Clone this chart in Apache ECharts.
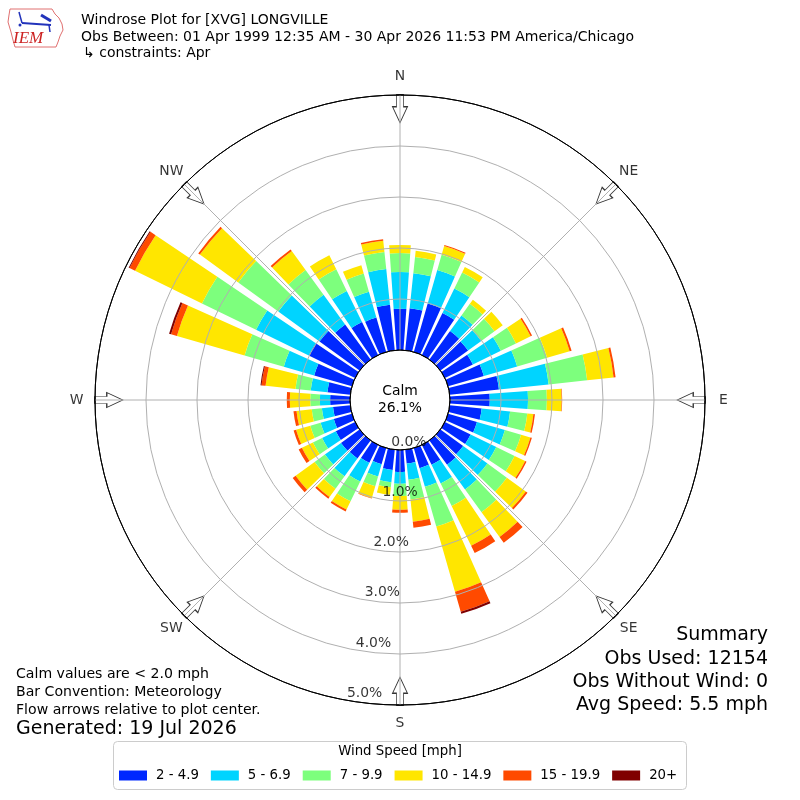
<!DOCTYPE html>
<html>
<head>
<meta charset="utf-8">
<title>Windrose XVG</title>
<script src="https://cdn.jsdelivr.net/npm/echarts@6/dist/echarts.min.js"></script>
<style>
html,body{margin:0;padding:0;background:#fff;}
#roseContainer{width:800px;height:800px;}
</style>
</head>
<body>
<div id="roseContainer"></div>
<script>
//风向 10度一档, 从北开始顺时针
var dirLabels = ['0','10','20','30','40','50','60','70','80','90','100','110','120','130','140','150','160','170',
                 '180','190','200','210','220','230','240','250','260','270','280','290','300','310','320','330','340','350'];
var speedNames = ['2 - 4.9','5 - 6.9','7 - 9.9','10 - 14.9','15 - 19.9','20+'];

// percent of obs per direction, one array per speed bin
var spd2  = [0.81,0.83,0.99,0.92,0.69,0.67,0.61,0.73,0.97,0.78,0.63,0.59,0.56,0.55,0.59,0.43,0.41,0.27,
             0.43,0.40,0.33,0.39,0.44,0.45,0.42,0.37,0.34,0.39,0.45,0.77,1.01,0.97,0.85,0.72,0.70,0.90];
var spd5  = [0.72,0.69,0.68,0.53,0.38,0.32,0.61,0.68,0.98,0.75,0.56,0.57,0.56,0.59,0.60,0.41,0.38,0.32,
             0.23,0.24,0.25,0.41,0.43,0.39,0.30,0.27,0.22,0.20,0.33,0.62,1.15,1.00,0.72,0.68,0.53,0.70];
var spd7  = [0.37,0.32,0.31,0.35,0.28,0.32,0.33,0.61,0.76,0.37,0.34,0.33,0.40,0.47,0.55,0.49,0.81,0.39,
             0.24,0.10,0.20,0.43,0.30,0.25,0.20,0.21,0.20,0.19,0.30,0.80,1.18,0.97,0.60,0.47,0.37,0.34];
var spd10 = [0.16,0.12,0.18,0.12,0.10,0.20,0.32,0.46,0.52,0.29,0.12,0.19,0.23,0.46,0.60,0.87,1.33,0.44,
             0.27,0.15,0.24,0.18,0.20,0.46,0.24,0.29,0.30,0.40,0.59,1.38,1.46,0.93,0.46,0.31,0.17,0.22];
var spd15 = [0,0,0.02,0,0,0,0.03,0.04,0.04,0.01,0.03,0.03,0.03,0.04,0.14,0.16,0.41,0.12,
             0.06,0,0.01,0.04,0.04,0.07,0.07,0.05,0.06,0.06,0.08,0.12,0.12,0.04,0.04,0,0,0.03];
var spd20 = [0,0,0,0,0,0,0,0,0,0,0,0,0,0,0,0,0.04,0,
             0,0,0,0,0,0,0,0,0,0,0.02,0.04,0.02,0,0,0,0,0];

var ringTicks = [0,1,2,3,4,5];
var compassNames = ['N','NE','E','SE','S','SW','W','NW'];
var compassAngles = [0,45,90,135,180,225,270,315];

var calmPct = 26.1;
var obsUsed = 12154;
var obsNoWind = 0;
var avgSpeed = 5.5;

var speedData = [spd2, spd5, spd7, spd10, spd15, spd20];
var speedColors = ['#0028ff','#00d4ff','#7dff7d','#ffe600','#ff4a00','#800000'];
var FONT = '"DejaVu Sans"';

var myRoseChart = echarts.init(document.getElementById('roseContainer'));

var barSeries = speedNames.map(function(name, i){
    return {
        name: name,
        type: 'bar',
        coordinateSystem: 'polar',
        polarIndex: 0,
        stack: 'rose',
        barCategoryGap: '20%',
        data: speedData[i],
        itemStyle: { color: speedColors[i] },
        silent: true,
        z: 2
    };
});

function txt(x, y, text, size, align, extra){
    var st = {
        text: text, font: size + 'px ' + FONT, fill: '#000',
        align: align || 'left', textAlign: align || 'left',
        verticalAlign: 'middle', textVerticalAlign: 'middle'
    };
    if (extra) { for (var k in extra) st[k] = extra[k]; }
    return { type: 'text', x: x, y: y, style: st, silent: true };
}

option = {
    animation: false,
    backgroundColor: '#fff',
    textStyle: { fontFamily: 'DejaVu Sans' },
    polar: [
        { center: [400, 400], radius: [50, 305] },
        { center: [400, 400], radius: [50, 305] },
        { center: [400, 400], radius: [50, 356] }
    ],
    angleAxis: [
        { polarIndex: 0, type: 'category', data: dirLabels, startAngle: 95, clockwise: true, show: false },
        {
            polarIndex: 1, type: 'value', min: 0, max: 360, interval: 45, startAngle: 90, clockwise: true, z: 3,
            axisLine: { show: true, lineStyle: { color: '#000', width: 1 } },
            axisTick: { show: false },
            axisLabel: { show: false },
            splitLine: { show: true, lineStyle: { color: '#b0b0b0', width: 1 } }
        },
        { polarIndex: 2, type: 'value', min: 0, max: 360, startAngle: 90, clockwise: true, show: false }
    ],
    radiusAxis: [
        { polarIndex: 0, type: 'value', min: 0, max: 5, show: false },
        {
            polarIndex: 1, type: 'value', min: 0, max: 5, interval: 1, z: 3,
            axisLine: { show: false }, axisTick: { show: false }, axisLabel: { show: false },
            splitLine: { show: true, lineStyle: { color: ['#000','#b0b0b0','#b0b0b0','#b0b0b0','#b0b0b0','#000'], width: 1 } }
        },
        { polarIndex: 2, type: 'value', min: 0, max: 6, show: false }
    ],
    legend: {
        data: speedNames,
        left: 119, top: 769, padding: 0,
        itemWidth: 28, itemHeight: 10, itemGap: 12,
        icon: 'rect', selectedMode: false,
        textStyle: { fontSize: 13.3, color: '#000', padding: [0, 0, 0, 4] }
    },
    series: barSeries.concat([
        {
            // ring labels
            type: 'scatter', coordinateSystem: 'polar', polarIndex: 1, silent: true, z: 4,
            data: ringTicks.map(function(t){ return [t, 190]; }),
            symbolSize: 0.1, itemStyle: { color: 'rgba(0,0,0,0)' },
            label: {
                show: true, position: [0, 0], align: 'left', verticalAlign: 'bottom',
                fontSize: 13.9, color: '#000',
                formatter: function(p){ return p.value[0].toFixed(1) + '%'; }
            }
        },
        {
            // flow arrows
            type: 'scatter', coordinateSystem: 'polar', polarIndex: 1, silent: true, z: 2,
            symbol: 'path://M4,0 L11,0 L11,12 L15,12 L7.5,28 L0,12 L4,12 Z',
            symbolSize: [15, 28],
            data: compassAngles.map(function(a){ return { value: [4.73, a], symbolRotate: -a }; }),
            itemStyle: { color: '#fff', borderColor: '#000', borderWidth: 1 }
        },
        {
            // compass labels
            type: 'scatter', coordinateSystem: 'polar', polarIndex: 2, silent: true, z: 4,
            data: compassNames.map(function(n, i){ return { name: n, value: [5.36, compassAngles[i]] }; }),
            symbolSize: 0.1, itemStyle: { color: 'rgba(0,0,0,0)' },
            label: { show: true, position: 'inside', formatter: '{b}', fontSize: 13.9, color: '#000' }
        }
    ]),
    graphic: [
        // IEM logo
        { type: 'polyline', silent: true,
          shape: { points: [[10,9],[52,9],[55,14],[59,18],[62,24],[63,30],[60,36],[58,42],[56,47],[15,47],[13,40],[11,32],[8,22],[9,15],[10,9]] },
          style: { stroke: '#e07070', lineWidth: 1, fill: null } },
        { type: 'line', silent: true, shape: { x1: 22, y1: 23, x2: 51, y2: 25 }, style: { stroke: '#2233bb', lineWidth: 2 } },
        { type: 'line', silent: true, shape: { x1: 41, y1: 15, x2: 51, y2: 21 }, style: { stroke: '#2233bb', lineWidth: 3 } },
        { type: 'line', silent: true, shape: { x1: 19, y1: 12, x2: 22, y2: 23 }, style: { stroke: '#2233bb', lineWidth: 1.5 } },
        { type: 'circle', silent: true, shape: { cx: 20, cy: 25, r: 1.5 }, style: { fill: '#2233bb' } },
        { type: 'line', silent: true, shape: { x1: 49, y1: 25, x2: 50, y2: 32 }, style: { stroke: '#2233bb', lineWidth: 1.5 } },
        txt(13, 39, 'IEM', 17, 'left', { font: 'italic 17px "Liberation Serif"', fill: '#cc2222' }),

        // title
        txt(81, 20, 'Windrose Plot for [XVG] LONGVILLE', 14),
        txt(81, 37, 'Obs Between: 01 Apr 1999 12:35 AM - 30 Apr 2026 11:53 PM America/Chicago', 14),
        txt(83, 53, '\u21b3 constraints: Apr', 14),

        // calm
        txt(400, 391, 'Calm', 13.9, 'center'),
        txt(400, 408, calmPct.toFixed(1) + '%', 13.9, 'center'),

        // notes
        txt(16, 674, 'Calm values are < 2.0 mph', 14.1),
        txt(16, 692, 'Bar Convention: Meteorology', 14.1),
        txt(16, 710, 'Flow arrows relative to plot center.', 14.1),
        txt(16, 729, 'Generated: 19 Jul 2026', 19),

        // summary
        txt(768, 635, 'Summary', 19, 'right'),
        txt(768, 659, 'Obs Used: ' + obsUsed, 19, 'right'),
        txt(768, 682, 'Obs Without Wind: ' + obsNoWind, 19, 'right'),
        txt(768, 705, 'Avg Speed: ' + avgSpeed.toFixed(1) + ' mph', 19, 'right'),

        // legend frame
        { type: 'rect', silent: true, z: -1, shape: { x: 113.5, y: 741.5, width: 573, height: 48, r: 4 },
          style: { fill: '#fff', stroke: '#cccccc', lineWidth: 1 } },
        txt(400, 752, 'Wind Speed [mph]', 13.3, 'center')
    ]
};

myRoseChart.setOption(option);
</script>
</body>
</html>
